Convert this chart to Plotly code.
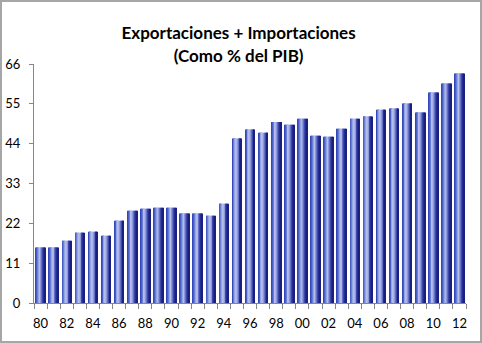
import plotly.graph_objects as go

years = ["80","81","82","83","84","85","86","87","88","89","90","91","92","93","94",
         "95","96","97","98","99","00","01","02","03","04","05","06","07","08","09",
         "10","11","12"]
values = [15.3, 15.3, 17.2, 19.4, 19.7, 18.6, 22.7, 25.5, 26.0, 26.3, 26.3, 24.7, 24.7,
          24.1, 27.4, 45.4, 47.9, 47.0, 50.0, 49.2, 50.9, 46.2, 45.9, 48.1, 50.9, 51.5,
          53.4, 53.7, 55.1, 52.6, 58.1, 60.6, 63.4]
y_ticks = [0, 11, 22, 33, 44, 55, 66]
label_years = years[::2]

# horizontal gradient profile for bars (left -> right)
grad_colors = ["#3447b8", "#4a5ec8", "#6a7ed6", "#94a3e2", "#b3bdea", "#aab4e6",
               "#8c98da", "#6470c6", "#3e48ac", "#262e96", "#1a1f80"]

x = list(range(len(years)))
W, H = 482, 343
ml, mr, mt, mb = 34, 16, 64, 40
bar_w = 0.72
n = len(grad_colors)
step = bar_w / n

fig = go.Figure()
for i, c in enumerate(grad_colors):
    fig.add_trace(go.Bar(
        x=x, y=values,
        width=step * 1.15,
        offset=-bar_w / 2 + i * step,
        marker=dict(color=c, line=dict(width=0)),
        showlegend=False, hoverinfo="skip"))

pw, ph = W - ml - mr, H - mt - mb
fig.update_layout(
    width=W, height=H,
    margin=dict(l=ml, r=mr, t=mt, b=mb, pad=0, autoexpand=False),
    barmode="overlay",
    paper_bgcolor="white", plot_bgcolor="white",
    font=dict(family="Lato, Calibri, Arial", size=12, color="#000000"),
    title=dict(text="<b>Exportaciones + Importaciones<br>(Como % del PIB)</b>",
               x=0.495, xanchor="center", y=0.885, yanchor="top",
               font=dict(size=17, family="Lato, Calibri, Arial", color="#000000")),
    xaxis=dict(range=[-0.5, len(years) - 0.5], tickmode="array",
               tickvals=[i for i in x if i % 2 == 0], ticktext=label_years,
               ticks="", showline=True, linecolor="#868686", linewidth=1,
               showgrid=False, zeroline=False, ticklabelstandoff=8,
               automargin=False, tickfont=dict(size=13),
               minor=dict(tickmode="array",
                          tickvals=[i - 0.5 for i in range(len(years) + 1)],
                          ticks="outside", ticklen=5, tickcolor="#868686",
                          showgrid=False)),
    yaxis=dict(range=[0, 66], tickmode="array", tickvals=y_ticks,
               ticks="outside", ticklen=4, tickcolor="#868686",
               showline=True, linecolor="#868686", linewidth=1,
               showgrid=False, zeroline=False, ticklabelstandoff=6,
               automargin=False, tickfont=dict(size=13)),
    shapes=[dict(type="rect", xref="paper", yref="paper",
                 x0=-ml / pw + 1 / pw, x1=1 + mr / pw - 1 / pw,
                 y0=-mb / ph + 1 / ph, y1=1 + mt / ph - 1 / ph,
                 line=dict(color="#a6a6a6", width=2))],
)
fig.write_html("out.html")
